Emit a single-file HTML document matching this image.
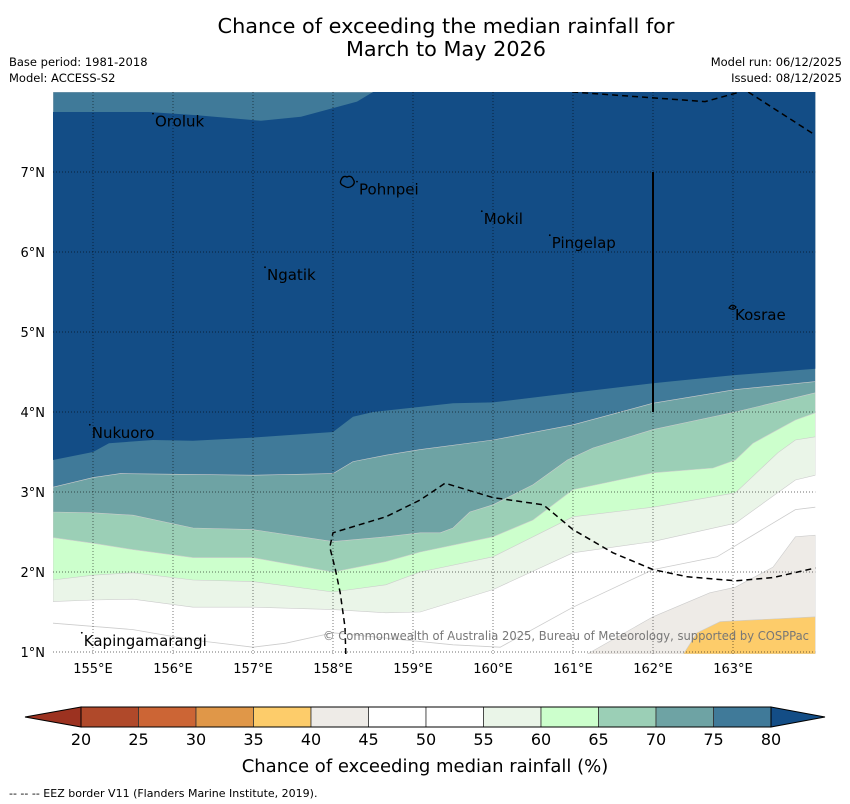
<!DOCTYPE html>
<html><head><meta charset="utf-8"><style>
html,body{margin:0;padding:0;background:#fff;}
svg{display:block;font-family:"DejaVu Sans","Liberation Sans",sans-serif;}
</style></head><body>
<svg id="chart" width="850" height="804" viewBox="0 0 850 804" xmlns="http://www.w3.org/2000/svg">
<text x="446" y="33" text-anchor="middle" font-size="20.8">Chance of exceeding the median rainfall for</text>
<text x="446" y="56" text-anchor="middle" font-size="20.8">March to May 2026</text>
<text x="9" y="66" font-size="11.5">Base period: 1981-2018</text>
<text x="9" y="82" font-size="11.5">Model: ACCESS-S2</text>
<text x="842" y="66" font-size="11.5" text-anchor="end">Model run: 06/12/2025</text>
<text x="842" y="82" font-size="11.5" text-anchor="end">Issued: 08/12/2025</text>
<g id="map"></g>
<g id="cbar"></g>
<text x="425" y="772" text-anchor="middle" font-size="18">Chance of exceeding median rainfall (%)</text>
<text x="9" y="797" font-size="11">--  --  -- EEZ border V11 (Flanders Marine Institute, 2019).</text>
</svg>
<script>
const lonTicks=[155,156,157,158,159,160,161,162,163];
const latTicks=[1,2,3,4,5,6,7];
const cbarLevels=[20,25,30,35,40,45,50,55,60,65,70,75,80];
const cbarColors=["#b0492a","#cc6535","#e09748","#fdcc6a","#eeebe7","#ffffff","#ffffff","#eaf5e8","#ccffcc","#9bcfb6","#6ea3a4","#407a99"];
const lowColor="#9c3220", highColor="#134d86";
const top80=[[154.5,7.75],[155.7,7.75],[156.3,7.71],[157.1,7.64],[157.6,7.69],[158.3,7.88],[158.5,8.0]];
const b80=[[154.5,3.4],[155,3.5],[155.2,3.61],[155.75,3.65],[156.25,3.64],[157,3.68],[158,3.75],[158.25,3.94],[158.5,4.0],[159.5,4.11],[160,4.12],[161,4.24],[162,4.36],[163,4.46],[164.03,4.54]];
const b75=[[154.5,3.06],[155,3.18],[155.34,3.23],[157,3.21],[158,3.23],[158.25,3.38],[158.66,3.46],[159.09,3.53],[160,3.65],[161,3.84],[162,4.11],[163.03,4.28],[164.03,4.38]];
const b70=[[154.5,2.75],[155,2.74],[155.5,2.71],[156.25,2.55],[157,2.53],[158,2.38],[158.66,2.44],[159.09,2.49],[159.34,2.49],[159.5,2.55],[159.71,2.75],[160,2.84],[160.5,3.09],[160.93,3.4],[161.25,3.55],[162,3.78],[163.03,4.0],[164.03,4.24]];
const b65=[[154.5,2.43],[155,2.36],[155.5,2.28],[156.25,2.18],[157,2.18],[158,2.0],[158.66,2.13],[159.09,2.25],[160,2.44],[160.5,2.65],[161,3.03],[162,3.24],[162.75,3.3],[163.03,3.4],[163.25,3.61],[163.78,3.9],[164.03,3.99]];
const b60=[[154.5,1.9],[155,1.96],[155.5,1.99],[156.25,1.9],[157,1.88],[158,1.75],[158.66,1.84],[159.09,2.0],[160,2.19],[161,2.69],[162,2.81],[163.03,2.99],[163.56,3.49],[163.78,3.65],[164.03,3.69]];
const b55=[[154.5,1.63],[155,1.65],[155.5,1.66],[156.25,1.56],[157,1.56],[158,1.53],[158.66,1.49],[159.09,1.5],[160,1.78],[161,2.24],[162,2.38],[163.03,2.61],[163.78,3.15],[164.03,3.21]];
const b50=[[154.5,1.36],[155.5,1.28],[156.25,1.15],[157,1.06],[157.41,1.11],[158,1.24],[159.5,1.09],[160.09,1.06],[161,1.56],[162,2.03],[162.8,2.19],[163.78,2.78],[164.03,2.81]];
const b45=[[161.18,0.975],[162,1.44],[162.71,1.74],[163.03,1.81],[163.5,2.06],[163.78,2.44],[164.03,2.46]];
const b40=[[162.38,0.975],[162.55,1.24],[162.84,1.38],[164.03,1.44]];
const eezA=[[158.16,0.975],[158.15,1.31],[158.09,1.74],[158.03,2.03],[157.96,2.31],[158.0,2.49],[158.13,2.53],[158.66,2.69],[159.09,2.9],[159.4,3.11],[160,2.93],[160.63,2.84],[161,2.53],[161.5,2.24],[162,2.03],[162.43,1.94],[163.03,1.89],[163.5,1.93],[164.03,2.05]];
const eezB=[[160.99,8],[162.65,7.88],[163.09,8]];
const eezC=[[163.19,8],[164.03,7.46]];
const placeNames=["Oroluk","Pohnpei","Mokil","Pingelap","Ngatik","Kosrae","Nukuoro","Kapingamarangi"];
const placeLon=[155.75,158.3,159.86,160.71,157.15,163.0,154.96,154.86];
const placeLat=[7.73,6.88,6.51,6.21,5.81,5.31,3.84,1.24];
const LON0=154.5,LON1=164.03,LAT0=0.975,LAT1=8.0;
const X0=53,Y0=92,PX=80;
const xs=lon=>X0+(lon-LON0)*PX;
const ys=lat=>Y0+(LAT1-lat)*PX;
const NS="http://www.w3.org/2000/svg";
const mapG=document.getElementById('map');
function mk(tag,attrs,parent){const e=document.createElementNS(NS,tag);for(const k in attrs)e.setAttribute(k,attrs[k]);(parent||mapG).appendChild(e);return e;}
const pts=a=>a.map(p=>xs(p[0]).toFixed(1)+","+ys(p[1]).toFixed(1)).join(" ");
const W=xs(LON1)-X0,H=ys(LAT0)-Y0;
const clip=mk('clipPath',{id:'mc'});mk('rect',{x:X0,y:Y0,width:W,height:H},clip);
const g=mk('g',{'clip-path':'url(#mc)'});
const bg=mk('rect',{x:X0,y:Y0,width:W,height:H,fill:'#fff'},g);


function upper(b,col,name){const p=mk('polygon',{points:pts(b.concat([[LON1,LAT1],[LON0,LAT1]])),fill:col,stroke:'#ccc','stroke-width':0.6},g);

}
function lower(b,col,name){const p=mk('polygon',{points:pts(b.concat([[LON1,LAT0]])),fill:col,stroke:'#ccc','stroke-width':0.6},g);

}
upper(b55,cbarColors[7],'band-55-60');
upper(b60,cbarColors[8],'band-60-65');
upper(b65,cbarColors[9],'band-65-70');
upper(b70,cbarColors[10],'band-70-75');
upper(b75,cbarColors[11],'band-75-80');
const topBand=mk('polygon',{points:pts(b80.concat([[LON1,LAT1]]).concat(top80.slice().reverse())),fill:highColor},g);


lower(b45,cbarColors[4],'band-40-45');
lower(b40,cbarColors[3],'band-35-40');
const l50=mk('polyline',{points:pts(b50),fill:'none',stroke:'#ccc','stroke-width':0.8},g);


lonTicks.forEach(v=>{const l=mk('line',{x1:xs(v),x2:xs(v),y1:Y0,y2:Y0+H,stroke:'#000','stroke-width':0.7,'stroke-dasharray':'1,2',opacity:0.75},g);


const t=mk('text',{x:xs(v),y:Y0+H+19,'text-anchor':'middle','font-size':13});t.textContent=v+"°E";

});
latTicks.forEach(v=>{const l=mk('line',{x1:X0,x2:X0+W,y1:ys(v),y2:ys(v),stroke:'#000','stroke-width':0.7,'stroke-dasharray':'1,2',opacity:0.75},g);


const t=mk('text',{x:X0-8,y:ys(v)+5,'text-anchor':'end','font-size':13});t.textContent=v+"°N";

});
[eezA,eezB,eezC].forEach(a=>{const l=mk('polyline',{points:pts(a),fill:'none',stroke:'#000','stroke-width':1.5,'stroke-dasharray':'6,4'},g);

});
const vl=mk('line',{x1:xs(162),x2:xs(162),y1:ys(7),y2:ys(4),stroke:'#000','stroke-width':2},g);


const isl=mk('path',{d:`M${xs(158.1)},${ys(6.9)} q2,-5 6,-3 q4,-2 6,2 q3,4 -1,7 q-4,3 -8,0 q-5,-2 -3,-6z`,fill:'none',stroke:'#000','stroke-width':1.3},g);


const isk=mk('path',{d:`M${xs(162.95)},${ys(5.3)} q3,-5 7,-1 q-2,4 -7,1z`,fill:'none',stroke:'#000','stroke-width':1.2},g);


placeNames.forEach((n,i)=>{const m=mk('circle',{cx:xs(placeLon[i]),cy:ys(placeLat[i]),r:0.9,fill:'#000'},g);


const t=mk('text',{x:xs(placeLon[i])+2,y:ys(placeLat[i])+13,'font-size':15},g);t.textContent=n;

});
const cp=mk('text',{x:323,y:640,'font-size':12,fill:'#777',textLength:486,lengthAdjust:'spacingAndGlyphs'});cp.textContent="© Commonwealth of Australia 2025, Bureau of Meteorology, supported by COSPPac";


const cb=document.getElementById('cbar');
const cx=v=>81+(v-20)*11.5;
const CY=707,CH=20;
const lt=mk('polygon',{points:`${cx(20)},${CY} 25,${CY+CH/2} ${cx(20)},${CY+CH}`,fill:lowColor,stroke:'#000','stroke-width':1},cb);


const rt=mk('polygon',{points:`${cx(80)},${CY} 825,${CY+CH/2} ${cx(80)},${CY+CH}`,fill:highColor,stroke:'#000','stroke-width':1},cb);


cbarColors.forEach((c,i)=>{const r=mk('rect',{x:cx(cbarLevels[i]),y:CY,width:cx(cbarLevels[i+1])-cx(cbarLevels[i]),height:CH,fill:c,stroke:'#333','stroke-width':0.8},cb);

});
const fr=mk('rect',{x:cx(20),y:CY,width:cx(80)-cx(20),height:CH,fill:'none',stroke:'#000','stroke-width':1},cb);


cbarLevels.forEach(v=>{const t=mk('text',{x:cx(v),y:745,'text-anchor':'middle','font-size':16},cb);t.textContent=v;

});
</script>
</body></html>
